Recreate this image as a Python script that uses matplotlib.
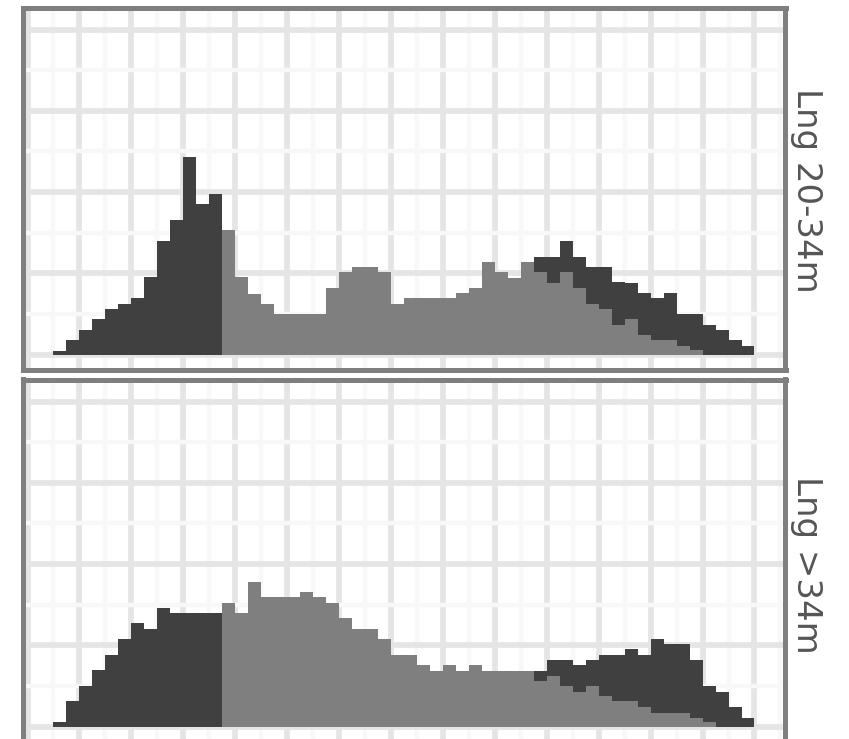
import numpy as np
import matplotlib
matplotlib.use("Agg")
import matplotlib.pyplot as plt

# histogram bins: width 0.25, first left edge at 0.5 (54 bins)
bin_start = 0.5
bin_width = 0.25

# top facet (Lng 20-34m), stacked: gray at bottom, dark on top
top_gray = [0, 0, 0, 0, 0, 0, 0, 0, 0, 0, 0, 0, 0,
            15.3, 9.5, 7.5, 6.2, 5.0, 5.0, 5.0, 5.0, 8.2, 10.2, 10.8, 10.8, 10.2,
            6.2, 7.0, 7.0, 7.0, 7.0, 7.6, 8.2, 11.4, 10.2, 9.4, 11.4, 10.2, 8.8,
            10.2, 8.2, 6.2, 5.6, 3.6, 4.4, 2.4, 1.8, 1.8, 1.1, 0.5, 0, 0, 0, 0]
top_dark = [0.4, 1.8, 3.0, 4.4, 5.6, 6.2, 7.0, 9.5, 14.0, 16.6, 24.3, 18.5, 19.8,
            0, 0, 0, 0, 0, 0, 0, 0, 0, 0, 0, 0, 0,
            0, 0, 0, 0, 0, 0, 0, 0, 0, 0, 0, 1.8, 3.2,
            3.8, 3.8, 4.6, 5.2, 5.3, 4.4, 5.2, 5.2, 5.8, 3.9, 4.5, 3.6, 3.0, 1.8, 1.1]

# bottom facet (Lng >34m)
bot_gray = [0, 0, 0, 0, 0, 0, 0, 0, 0, 0, 0, 0, 0,
            15.2, 14.0, 17.8, 16.0, 16.0, 15.9, 16.6, 15.9, 15.2, 13.4, 12.0, 12.0, 10.8,
            8.8, 8.8, 7.6, 6.8, 7.6, 6.8, 7.6, 6.8, 6.8, 6.8, 6.8, 5.6, 6.2,
            5.0, 4.3, 5.0, 3.7, 3.1, 3.1, 2.4, 1.7, 1.7, 1.7, 1.1, 0.5, 0, 0, 0]
bot_dark = [0.5, 3.1, 5.0, 6.9, 8.8, 10.8, 12.7, 12.0, 14.6, 14.0, 14.0, 14.0, 14.0,
            0, 0, 0, 0, 0, 0, 0, 0, 0, 0, 0, 0, 0,
            0, 0, 0, 0, 0, 0, 0, 0, 0, 0, 0, 1.2, 2.0,
            3.2, 3.3, 3.2, 5.1, 5.7, 6.4, 6.4, 9.1, 8.5, 8.5, 7.1, 4.5, 4.3, 2.4, 1.0]

panel_labels = ["Lng 20-34m", "Lng >34m"]

DARK = "#404040"
GRAY = "#7F7F7F"
W, H = 849, 739

fig = plt.figure(figsize=(W / 100, H / 100), dpi=100)


def panel(top_px, bottom_px, dark, gray):
    ax = fig.add_axes([22.5 / W, 1 - bottom_px / H, 763 / W, (bottom_px - top_px) / H])
    x = bin_start + bin_width * np.arange(len(dark))
    ax.bar(x, gray, width=bin_width, align="edge", color=GRAY, linewidth=0,
           antialiased=False, zorder=2)
    ax.bar(x, dark, bottom=gray, width=bin_width, align="edge", color=DARK,
           linewidth=0, antialiased=False, zorder=2)
    ax.set_xlim(-0.0963, 14.597)
    ax.set_ylim(-1.846, 42.71)
    ax.set_xticks(np.arange(0, 15, 1))
    ax.set_xticks(np.arange(0.5, 15, 1), minor=True)
    ax.set_yticks([0, 10, 20, 30, 40])
    ax.set_yticks([5, 15, 25, 35], minor=True)
    ax.tick_params(which="both", length=0, labelbottom=False, labelleft=False)
    ax.grid(which="minor", color="#F8F8F8", linewidth=3.2)
    ax.grid(which="major", color="#E5E5E5", linewidth=4.1)
    ax.set_axisbelow(True)
    for s in ax.spines.values():
        s.set_color("#7F7F7F")
        s.set_linewidth(3.6)
    return ax


panel(7.5, 369.5, top_dark, top_gray)
panel(379.5, 741.5, bot_dark, bot_gray)

for label, ypx in zip(panel_labels, [190, 565]):
    fig.text(806 / W, 1 - ypx / H, label, rotation=270, ha="center", va="center",
             fontsize=24.5, color="#555555")

fig.savefig("out.png", dpi=100)
